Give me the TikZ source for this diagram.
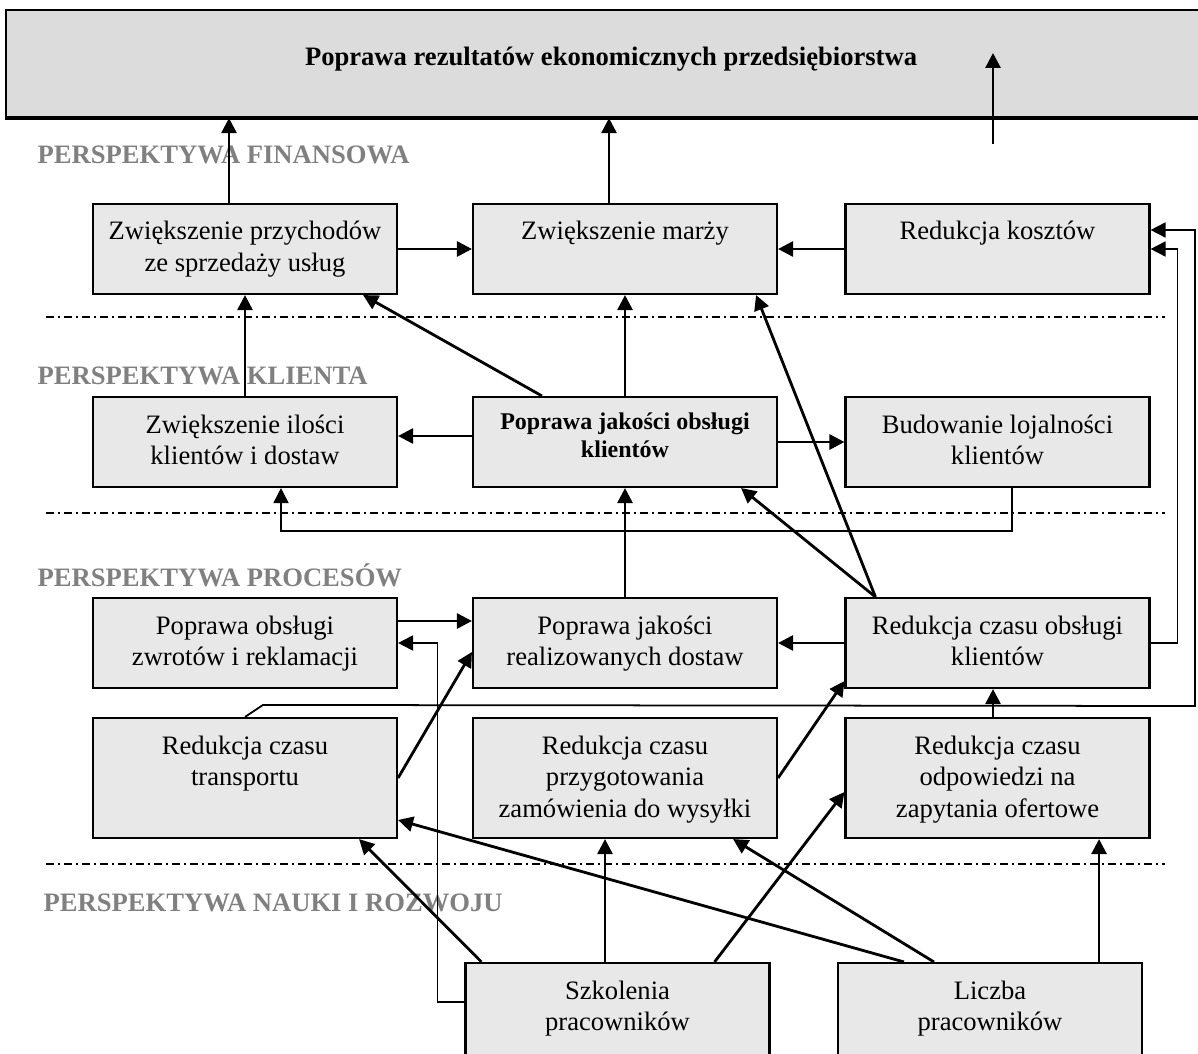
\documentclass[tikz,border=0pt]{standalone}
\usepackage{fontspec}
\setmainfont{Liberation Serif}
\usepackage{tikz}
\usetikzlibrary{arrows.meta}
\definecolor{mygray}{RGB}{128,128,128}
\definecolor{myfill}{RGB}{232,232,232}
\definecolor{mygoal}{RGB}{220,220,220}
\newcommand\fbody{\fontsize{7.57pt}{9.1pt}\selectfont}
\newcommand\fbold{\fontsize{6.83pt}{8.25pt}\selectfont\bfseries}
\newcommand\kbt[3][0.36cm]{\parbox[c][#2][t]{3.04cm}{\centering\rule{0pt}{#1}#3}}

\begin{document}
\begin{tikzpicture}[x=1cm, y=-1cm,
    kbox/.style={draw=black, fill=myfill, line width=0.6pt, inner sep=0pt,
                 minimum width=3.04cm, font=\fbody},
    arr/.style={line width=0.8pt, -{Triangle[length=0.15cm,width=0.15cm]}},
    thinarr/.style={line width=0.5pt, -{Triangle[length=0.15cm,width=0.15cm]}},
    sep/.style={line width=0.5pt, dash pattern=on 0.08cm off 0.04cm on 0.02cm off 0.04cm},
    lbl/.style={text=mygray, font=\fbody\bfseries, anchor=base west, inner sep=0pt}]
  \useasboundingbox (0,0) rectangle (11.98,10.54);
  \clip (0,0) rectangle (11.98,10.54);
  % Goal
  \node[draw=black, fill=mygoal, line width=0.6pt, inner sep=0pt, anchor=north west,
        font=\fbody\bfseries] (goal) at (0.05,0.09)
    {\parbox[c][1.07cm][t]{12.1cm}{\centering\rule{0pt}{0.55cm}Poprawa rezultatów ekonomicznych przedsiębiorstwa}};
  \draw[line width=0.9pt] (goal.south west) -- (goal.south east);
  % Perspectives
  \node[lbl] (lfin) at (0.37,1.64) {PERSPEKTYWA FINANSOWA};
  \node[lbl] (lkli) at (0.37,3.84) {PERSPEKTYWA KLIENTA};
  \node[lbl] (lpro) at (0.37,5.86) {PERSPEKTYWA PROCESÓW};
  \node[lbl] (lnau) at (0.43,9.11) {PERSPEKTYWA NAUKI I ROZWOJU};
  \foreach \y in {3.17,5.13,8.64}
    \draw[sep] (0.46,\y) -- (11.65,\y);
  % Finansowa
  \node[kbox] (b11) at (2.45,2.49) {\kbt{0.9cm}{Zwiększenie przychodów\\ze sprzedaży usług}};
  \node[kbox] (b12) at (6.25,2.49) {\kbt{0.9cm}{Zwiększenie marży}};
  \node[kbox] (b13) at (9.975,2.49) {\kbt{0.9cm}{Redukcja kosztów}};
  % Klient
  \node[kbox] (b21) at (2.45,4.42) {\kbt{0.9cm}{Zwiększenie ilości\\klientów i dostaw}};
  \node[kbox, font=\fbold] (b22) at (6.25,4.42) {\kbt[0.32cm]{0.9cm}{Poprawa jakości obsługi\\klientów}};
  \node[kbox] (b23) at (9.975,4.42) {\kbt{0.9cm}{Budowanie lojalności\\klientów}};
  % Procesy
  \node[kbox] (b31) at (2.45,6.43) {\kbt{0.9cm}{Poprawa obsługi\\zwrotów i reklamacji}};
  \node[kbox] (b32) at (6.25,6.43) {\kbt{0.9cm}{Poprawa jakości\\realizowanych dostaw}};
  \node[kbox] (b33) at (9.975,6.43) {\kbt{0.9cm}{Redukcja czasu obsługi\\klientów}};
  \node[kbox] (b41) at (2.45,7.78) {\kbt{1.2cm}{Redukcja czasu\\transportu}};
  \node[kbox] (b42) at (6.25,7.78) {\kbt{1.2cm}{Redukcja czasu\\przygotowania\\zamówienia do wysyłki}};
  \node[kbox] (b43) at (9.975,7.78) {\kbt{1.2cm}{Redukcja czasu\\odpowiedzi na\\zapytania ofertowe}};
  % Nauka i rozwoj
  \node[kbox] (b51) at (6.175,10.23) {\kbt{1.2cm}{Szkolenia\\pracowników}};
  \node[kbox] (b52) at (9.90,10.23) {\kbt{1.2cm}{Liczba\\pracowników}};
  % Arrows to goal
  \draw[arr] ([xshift=-1.6mm]b11.north) -- ([xshift=-1.6mm]b11.north |- goal.south);
  \draw[arr] ([xshift=-1.6mm]b12.north) -- ([xshift=-1.6mm]b12.north |- goal.south);
  \coordinate (up0) at (9.93,1.44);
  \coordinate (up1) at (9.93,0.53);
  \draw[arr] (up0) -- (up1);
  \draw[arr] (b11.east) -- (b12.west);
  \draw[arr] (b13.west) -- (b12.east);
  % Klient links
  \draw[arr] (b21.north) -- (b11.south);
  \draw[arr] (b22.north) -- (b12.south);
  \draw[arr] ([xshift=0.7cm]b22.north west) -- ([xshift=-0.35cm]b11.south east);
  \draw[arr] ([yshift=0.6mm]b22.west) -- ([yshift=0.6mm]b21.east);
  \draw[arr] (b22.east) -- (b23.west);
  \draw[thinarr] ([xshift=1.45mm]b23.south) -- ++(0,0.43) -| ([xshift=3.6mm]b21.south);
  % Procesy links
  \draw[arr] (b32.north) -- (b22.south);
  \draw[arr] ([xshift=3.1mm]b33.north west) -- ([xshift=-3.7mm]b22.south east);
  \draw[arr] ([xshift=3.1mm]b33.north west) -- ([xshift=-2.2mm]b12.south east);
  \draw[arr] (b33.west) -- (b32.east);
  \draw[arr] ([yshift=2.2mm]b31.east) -- ([yshift=2.2mm]b32.west);
  \draw[thinarr] (b33.east) -- ++(0.27,0) |- (b13.east);
  \draw[thinarr] ([yshift=-4mm]b51.north west) -- ++(-0.27,0) |- (b31.east);
  \draw[arr] (b41.east) -- ([yshift=-0.9mm]b32.west);
  \coordinate (loop) at (11.95,7.06);
  \draw[thinarr] (b41.north) -- ++(0.18,-0.12) -- (loop) |- ([yshift=1.9mm]b13.east);
  \draw[arr] ([xshift=-0.45mm]b43.north) -- ([xshift=-0.45mm]b33.south);
  \draw[arr] (b42.east) -- ([yshift=0.8mm]b33.south west);
  % Nauka links
  \draw[arr] ([xshift=-1.25mm]b51.north) -- ([xshift=-1.25mm]b51.north |- b42.south);
  \draw[arr] ([xshift=-0.56cm]b51.north east) -- ([yshift=-1.4mm]b43.west);
  \draw[arr] ([xshift=1.7mm]b51.north west) -- ([xshift=-3.9mm]b41.south east);
  \draw[arr] ([xshift=0.67cm]b52.north west) -- ([yshift=-4.2mm]b41.east);
  \draw[arr] ([xshift=0.97cm]b52.north west) -- ([xshift=-0.45cm]b42.south east);
  \draw[arr] ([xshift=-0.44cm]b52.north east) -- ([xshift=-0.44cm]b52.north east |- b43.south);
\end{tikzpicture}
\end{document}
